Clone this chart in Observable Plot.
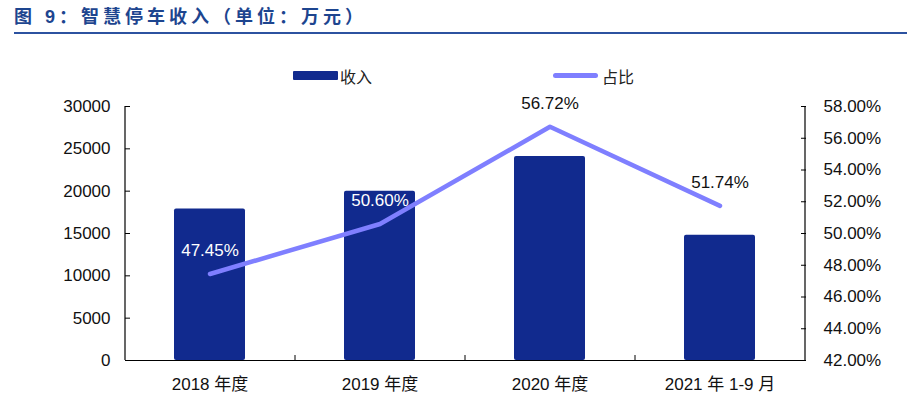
<!DOCTYPE html>
<html><head><meta charset="utf-8">
<script src="https://cdn.jsdelivr.net/npm/d3@7"></script>
<script src="https://cdn.jsdelivr.net/npm/@observablehq/plot@0.6"></script>
<style>
body{margin:0;background:#fff;font-family:"Liberation Sans","Noto Sans CJK SC",sans-serif;}
#wrap{width:910px;height:398px;position:relative;overflow:hidden;background:#fff}
#title{position:absolute;left:14px;top:4px;font-weight:bold;font-size:18px;line-height:26px;color:#1d458f;letter-spacing:4px;font-family:"Liberation Sans","Noto Sans CJK SC",sans-serif;white-space:nowrap}
#rule{position:absolute;left:14px;top:32px;width:893px;height:2px;background:#2c52a0}
.lg{position:absolute;top:66px;font-size:16px;line-height:20px;color:#222;font-family:"Noto Sans CJK SC",sans-serif}
.sw-bar{position:absolute;left:293px;top:71px;width:45px;height:9px;background:#112a8e;border-radius:1px}
.sw-line{position:absolute;left:553px;top:73px;width:45px;height:5px;background:#7f7fff;border-radius:3px}
#chart{position:absolute;top:90px;left:0}
</style></head>
<body><div id="wrap">
<div id="title">图 9：智慧停车收入（单位：万元）</div>
<div id="rule"></div>
<div class="sw-bar"></div><div class="lg" style="left:340px">收入</div>
<div class="sw-line"></div><div class="lg" style="left:602px">占比</div>
<div id="chart"></div>
</div>
<script>
const categories = ["2018 年度", "2019 年度", "2020 年度", "2021 年 1-9 月"];
const revenue = [17900, 20000, 24100, 14800];
const share = [47.45, 50.60, 56.72, 51.74];
const leftTicks = [0, 5000, 10000, 15000, 20000, 25000, 30000];
const rightTicks = [42, 44, 46, 48, 50, 52, 54, 56, 58];

const yMax = 30000, pMin = 42, pMax = 58;
const toY = p => (p - pMin) / (pMax - pMin) * yMax;
const fromY = v => pMin + v / yMax * (pMax - pMin);
const data = categories.map((c, i) => ({cat: c, rev: revenue[i], pct: share[i]}));

const W = 910, ML = 125, MR = 105;
const half = (W - ML - MR) / categories.length / 2;
const font = '"Liberation Sans","Noto Sans CJK SC",sans-serif';

const chart = Plot.plot({
  width: W, height: 308,
  marginTop: 16, marginBottom: 38, marginLeft: ML, marginRight: MR,
  style: {fontFamily: font, fontSize: "17px", color: "#111", background: "transparent", overflow: "visible"},
  x: {domain: categories, paddingInner: 0.58, paddingOuter: 0.29},
  y: {domain: [0, yMax]},
  marks: [
    Plot.barY(data, {x: "cat", y: "rev", fill: "#112a8e", rx: 2}),
    Plot.line(data, {x: "cat", y: d => toY(d.pct), stroke: "#7f7fff", strokeWidth: 4.5, strokeLinecap: "round", strokeLinejoin: "round"}),
    Plot.text(data, {x: "cat", y: d => toY(d.pct), text: d => d.pct.toFixed(2) + "%", dy: -23, fontSize: 17,
      fill: (d, i) => i < 2 ? "#ffffff" : "#111111"}),
    Plot.axisY({ticks: leftTicks, anchor: "left", tickSize: -5, tickPadding: 20, tickFormat: d => String(d), label: null, stroke: "#000"}),
    Plot.axisY(rightTicks.map(toY), {anchor: "right", tickSize: -5, tickPadding: 23, tickFormat: v => fromY(v).toFixed(2) + "%", label: null, stroke: "#000"}),
    Plot.axisX({tickSize: 0, tickPadding: 17, label: null}),
    Plot.axisX(categories.slice(1), {tickSize: -5, dx: -half, tickFormat: null, label: null, stroke: "#000"}),
    Plot.ruleY([0], {stroke: "#000", strokeWidth: 1.2}),
    Plot.ruleX([categories[0]], {dx: -half, stroke: "#000", strokeWidth: 1.2}),
    Plot.ruleX([categories[categories.length - 1]], {dx: half, stroke: "#000", strokeWidth: 1.2})
  ]
});
document.getElementById("chart").appendChild(chart);
</script>
</body></html>
